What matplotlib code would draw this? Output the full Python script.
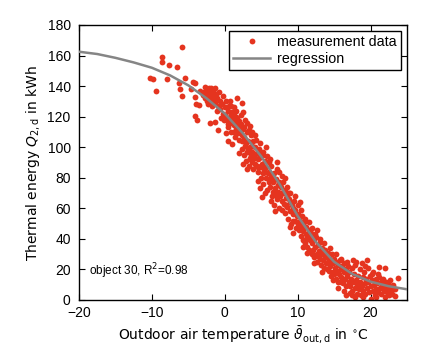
import matplotlib
matplotlib.use("Agg")
import matplotlib.pyplot as plt

# regression curve
reg_x = [-20, -17.5, -15, -12.5, -10, -7.5, -5, -2.5, 0, 2.5, 5, 7.5, 10,
         12.5, 15, 17.5, 20, 22.5, 25]
reg_y = [162.5, 161, 158.5, 155.5, 152, 147, 140.5, 132, 122, 109, 94, 76, 55,
         38, 25, 17, 12, 9, 7]

# measurement points, grouped by temperature range
pts_left = [(-10.3, 145), (-9.8, 144.5), (-9.5, 137), (-8.6, 158.8), (-8.65, 156),
            (-7.9, 144.5), (-7.7, 153.8), (-6.5, 152.5), (-5.8, 165.5), (-6.3, 142.2),
            (-6.2, 138), (-5.8, 133.5), (-5.4, 145.5), (-4.7, 138), (-4.3, 143),
            (-4.05, 142), (-4.1, 132.7), (-4.1, 120.4), (-3.85, 118), (-3.95, 128),
            (-3.5, 127.5), (-3.4, 137), (-3.0, 134), (-2.7, 139.6), (-2.0, 116),
            (-0.9, 111)]
pts_top = [(-2.9, 136), (-2.6, 135), (-2.4, 137.5), (-2.2, 133), (-2.1, 138.5),
           (-1.9, 135.5), (-1.8, 131), (-1.6, 137), (-1.5, 133.5), (-1.3, 129),
           (-1.2, 135), (-1.0, 132), (-0.9, 127), (-0.7, 130.5), (-0.6, 125),
           (-0.4, 128), (-0.3, 122), (-0.2, 133.5), (-2.5, 130), (-1.7, 127),
           (-1.1, 124), (-0.5, 119), (-2.3, 128), (-1.4, 139), (0.0, 126),
           (0.2, 130), (-1.35, 116.2), (-2.0, 134), (-1.2, 131), (-0.8, 136),
           (-1.6, 130), (-0.1, 118), (-2.7, 132), (-1.9, 139)]
pts_0_2 = [(0.1, 121), (0.3, 118), (0.4, 124), (0.5, 113), (0.6, 127), (0.7, 120),
           (0.7, 130), (0.8, 116), (0.9, 110), (1.0, 123), (1.1, 118), (1.2, 114.5),
           (1.3, 121), (1.4, 107), (1.5, 116), (1.6, 112), (1.7, 119), (1.7, 132.4),
           (1.8, 109), (1.9, 114), (2.0, 117), (0.2, 109), (0.5, 104), (1.0, 102),
           (1.3, 126), (0.9, 127), (1.6, 124), (2.0, 105), (0.4, 115), (0.8, 122),
           (1.2, 110), (1.5, 120), (1.8, 115)]
pts_2_4 = [(2.1, 110), (2.2, 115), (2.3, 128.7), (2.45, 123.2), (2.3, 104), (2.4, 99),
           (2.5, 112), (2.6, 95), (2.7, 107), (2.8, 118), (2.8, 101), (2.9, 91),
           (3.0, 110), (3.1, 97), (3.2, 104), (3.3, 88), (3.4, 114), (3.4, 93),
           (3.5, 100), (3.6, 108), (3.7, 90), (3.8, 97), (3.9, 104), (3.9, 86),
           (2.2, 121), (2.6, 104), (3.0, 116), (3.3, 111), (3.6, 95), (2.5, 89),
           (3.1, 86), (3.8, 110), (2.0, 96), (2.4, 108), (2.9, 103), (3.2, 99),
           (3.5, 92), (2.7, 113), (3.7, 101)]
pts_4_6 = [(4.0, 94), (4.1, 100), (4.2, 89), (4.3, 105), (4.4, 96), (4.5, 84),
           (4.6, 92), (4.7, 99), (4.8, 87), (4.9, 103), (5.0, 80), (5.0, 94),
           (5.1, 89), (5.2, 97), (5.3, 76), (5.4, 85), (5.5, 91), (5.6, 80),
           (5.7, 100.3), (5.7, 87), (5.8, 72), (5.9, 83), (6.0, 90), (4.2, 108),
           (4.5, 78), (4.9, 73), (5.05, 67.6), (5.5, 70), (6.0, 77), (4.7, 93),
           (5.3, 95), (5.8, 94), (4.4, 88), (5.2, 83), (4.1, 93), (4.6, 87),
           (5.0, 88), (5.5, 84), (4.8, 96)]
pts_6_8 = [(6.1, 84), (6.2, 74), (6.3, 80), (6.4, 88), (6.5, 68), (6.6, 77),
           (6.7, 83), (6.8, 62), (6.9, 73), (7.0, 79), (7.1, 86), (7.2, 66),
           (7.3, 71), (7.4, 77), (7.5, 60), (7.6, 68), (7.7, 74), (7.8, 81),
           (7.9, 65), (8.0, 70), (6.3, 65), (6.9, 58), (7.4, 84), (7.8, 59),
           (6.2, 92), (7.0, 69), (7.6, 76), (6.6, 71), (8.0, 77), (7.2, 90),
           (6.4, 82), (6.8, 79), (7.3, 75), (7.7, 70)]
pts_8_10 = [(8.1, 63), (8.2, 72), (8.3, 57), (8.4, 67), (8.5, 74), (8.6, 61),
            (8.7, 53), (8.8, 66), (8.9, 58), (9.0, 70), (9.1, 50), (9.2, 62),
            (9.3, 56), (9.4, 43.6), (9.5, 65), (9.6, 52), (9.7, 59), (9.8, 47),
            (9.9, 55), (10.0, 62), (8.2, 80), (8.6, 69), (9.0, 64), (9.4, 60),
            (10.3, 64.3), (8.9, 48), (9.6, 68), (9.3, 52), (10.0, 50), (8.4, 62),
            (8.8, 70), (9.2, 58)]
pts_10_12 = [(10.1, 56), (10.2, 46), (10.3, 52), (10.4, 42), (10.5, 49), (10.6, 55),
             (10.7, 39), (10.8, 45), (10.9, 51), (11.0, 37), (11.1, 43), (11.2, 48),
             (11.3, 35), (11.4, 41), (11.5, 46), (11.6, 33), (11.7, 39), (11.8, 44),
             (11.9, 30), (12.0, 37), (10.5, 59), (11.0, 53), (11.5, 51), (12.0, 42),
             (11.3, 31), (10.8, 35), (12.6, 45.8), (11.9, 47), (10.4, 48), (11.1, 40)]
pts_12_14 = [(12.1, 33), (12.2, 39), (12.3, 28), (12.4, 35), (12.5, 41), (12.6, 30),
             (12.7, 25), (12.8, 36), (12.9, 32), (13.0, 27), (13.1, 38), (13.2, 23),
             (13.3, 30), (13.4, 34), (13.5, 26), (13.6, 21), (13.7, 29), (13.8, 33),
             (13.9, 24), (14.0, 28), (12.4, 43), (13.0, 40), (13.6, 37), (14.0, 20),
             (12.2, 24), (13.3, 18), (12.8, 29), (13.5, 31)]
pts_14_17 = [(14.1, 25), (14.2, 31), (14.3, 19), (14.4, 27), (14.5, 22), (14.6, 16),
             (14.7, 30), (14.8, 24), (14.9, 18), (15.0, 27), (15.1, 21), (15.2, 14),
             (15.3, 25), (15.4, 19), (15.5, 23), (15.6, 12), (15.7, 17), (15.8, 26),
             (15.9, 20), (16.0, 15), (16.1, 22), (16.2, 11), (16.3, 18), (16.4, 24),
             (16.5, 14), (16.6, 20), (16.7, 9), (16.8, 16), (16.9, 22), (17.0, 12),
             (14.5, 34), (15.2, 30), (16.0, 27), (16.8, 25), (15.5, 8), (16.3, 6),
             (14.8, 13), (17.2, 4.8), (15.0, 17), (15.9, 12), (16.5, 19)]
pts_right = [(17.1, 18), (17.2, 9), (17.3, 14), (17.4, 21), (17.5, 6), (17.6, 12),
             (17.7, 17), (17.8, 8), (17.9, 23), (18.0, 13), (18.1, 4), (18.2, 10),
             (18.3, 16), (18.4, 7), (18.5, 20), (18.6, 12), (18.7, 3), (18.8, 9),
             (18.9, 15), (19.0, 6), (19.1, 18), (19.2, 11), (19.3, 4), (19.4, 14),
             (19.5, 8), (19.6, 21), (19.7, 12), (19.8, 5), (19.9, 16), (20.0, 0.5),
             (20.1, 9), (20.2, 13), (20.3, 6), (20.4, 18), (20.5, 10), (20.6, 3),
             (20.7, 14), (20.8, 7), (20.9, 11), (21.0, 5), (21.1, 15), (21.2, 21.8),
             (21.3, 8), (21.4, 12), (21.5, 4), (21.6, 10), (21.7, 14), (21.8, 6),
             (21.9, 9), (22.0, 20.7), (22.1, 12), (22.2, 5), (22.3, 8), (22.4, 11),
             (22.5, 3), (22.6, 7), (22.7, 13), (22.8, 6), (22.9, 9), (23.0, 4),
             (23.1, 10), (23.3, 7), (23.7, 14.2), (18.0, 25), (18.8, 24), (17.6, 26),
             (19.3, 22), (20.2, 17), (21.0, 17), (17.4, 3), (17.8, 2), (19.0, 2),
             (20.8, 2), (22.0, 2), (16.6, 3), (23.4, 2.5), (19.5, 26)]

groups = [pts_left, pts_top, pts_0_2, pts_2_4, pts_4_6, pts_6_8, pts_8_10,
          pts_10_12, pts_12_14, pts_14_17, pts_right]
meas_x = [p[0] for g in groups for p in g]
meas_y = [p[1] for g in groups for p in g]

RED = "#e5341f"
GREY = "#858585"

plt.rcParams["font.family"] = ["Liberation Sans", "DejaVu Sans"]
plt.rcParams["mathtext.fontset"] = "dejavusans"

fig = plt.figure(figsize=(4.47, 3.5), dpi=100)
ax = fig.add_axes([0.1767, 0.1429, 0.7338, 0.7857])

ax.plot(meas_x, meas_y, "o", color=RED, markersize=4.2, markeredgewidth=0,
        label="measurement data", zorder=2)
ax.plot(reg_x, reg_y, "-", color=GREY, linewidth=1.8, label="regression", zorder=3)

ax.set_xlim(-20, 25)
ax.set_ylim(0, 180)
ax.set_xticks([-20, -10, 0, 10, 20])
ax.set_yticks(range(0, 181, 20))
ax.tick_params(direction="in", top=True, right=True, length=4, labelsize=10)
ax.tick_params(axis="y", pad=6)
ax.tick_params(axis="x", pad=4)
for s in ax.spines.values():
    s.set_linewidth(1.0)

ax.set_xlabel(r"Outdoor air temperature $\bar{\vartheta}_{\mathrm{out,d}}$ in $^{\circ}$C",
              fontsize=10, family="DejaVu Sans", labelpad=3)
ax.set_ylabel(r"Thermal energy $Q_{2,\mathrm{d}}$ in kWh", fontsize=10,
              family="DejaVu Sans", labelpad=4)

ax.text(0.03, 0.09, r"object 30, R$^2$=0.98", transform=ax.transAxes, fontsize=8.5)

leg = ax.legend(loc="upper right", fontsize=10.3, fancybox=False, framealpha=1,
                edgecolor="black", borderaxespad=0.4, handlelength=2.6,
                borderpad=0.3, labelspacing=0.2, handletextpad=0.5)
leg.get_frame().set_linewidth(1.0)

fig.savefig("out.png", dpi=100)
